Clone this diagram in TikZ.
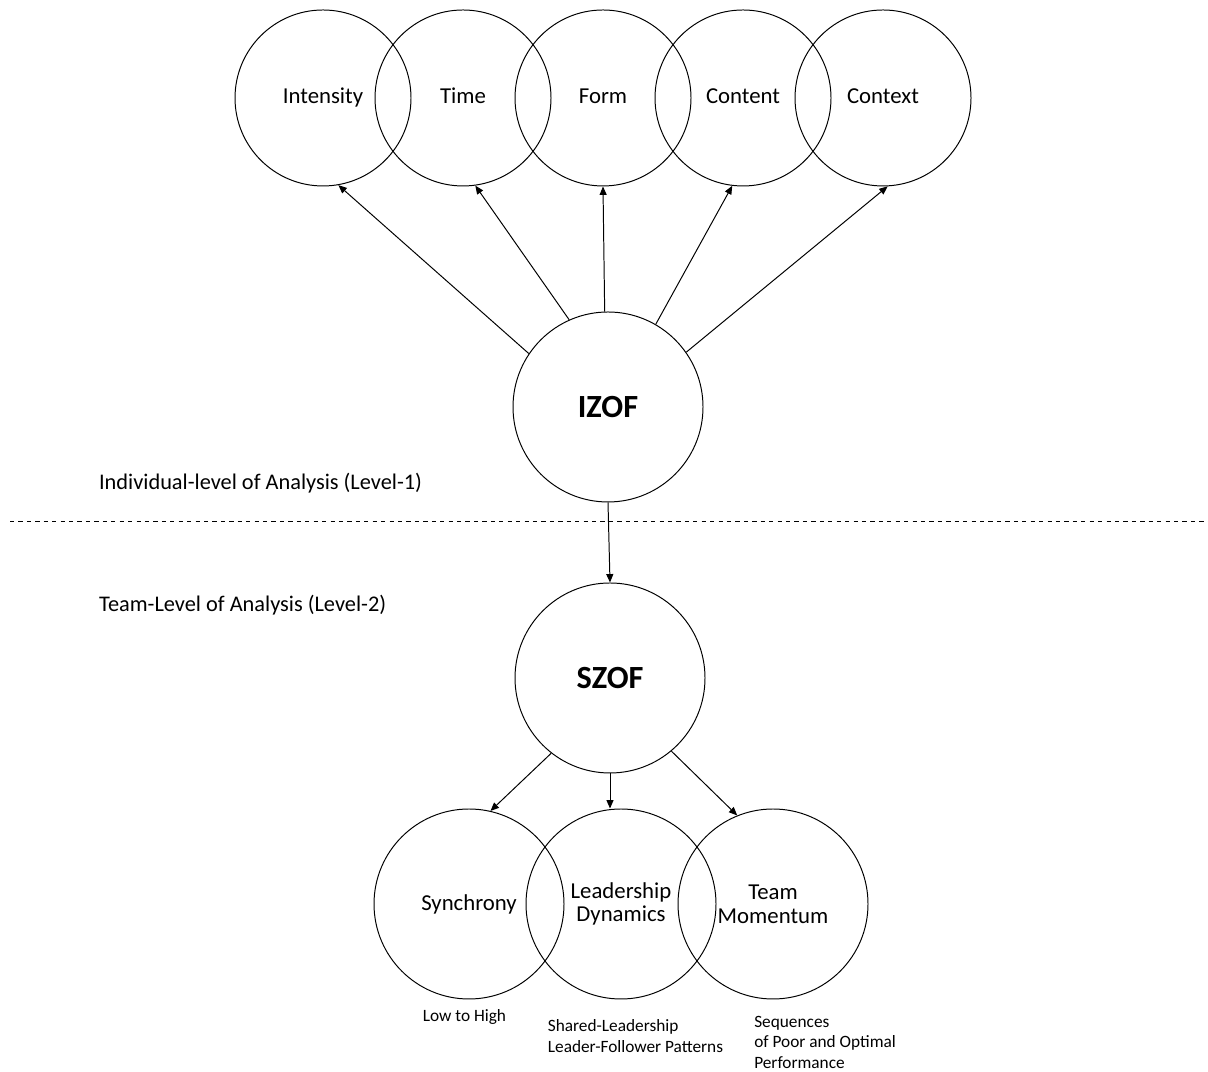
\documentclass[tikz,border=0pt]{standalone}
\usepackage{fontspec}
\setmainfont{Carlito}
\usetikzlibrary{arrows.meta}

\begin{document}
\begin{tikzpicture}[
	facet/.style={draw, circle, line width=0.7pt, minimum size=4.4cm, inner sep=0pt, text height=11.5pt, text depth=3pt, font=\fontsize{16.2}{17}\selectfont},
	zone/.style={draw, circle, line width=0.7pt, minimum size=4.75cm, inner sep=0pt, font=\fontsize{23}{25}\selectfont\bfseries},
	team/.style={draw, circle, line width=0.7pt, minimum size=4.75cm, inner sep=0pt, align=center, font=\fontsize{16.2}{16.8}\selectfont},
	note/.style={align=left, inner sep=0pt, font=\fontsize{12.3}{14.6}\selectfont},
	level/.style={anchor=west, inner sep=0pt, font=\fontsize{15.9}{17}\selectfont},
	arr/.style={-{Triangle[length=6pt,width=5pt]}, line width=0.7pt}]
			%%%%% START %%%%%
			\useasboundingbox (0, 0) rectangle (30.2, 26.8);
			
			\node[facet] (intensity) at (8.075, 24.35) {Intensity};
			\node[facet] (time) at (11.575, 24.35) {Time};
			\node[facet] (form) at (15.075, 24.35) {Form};
			\node[facet] (content) at (18.575, 24.35) {Content};
			\node[facet] (context) at (22.075, 24.35) {Context};
			
			\node[zone] (izof) at (15.2, 16.625) {IZOF};
			
			\draw[arr] (izof.146) -- (intensity.-80);
			\draw[arr] (izof.114) -- (time.-82);
			\draw[arr] (izof.92) -- (form.-90);
			\draw[arr] (izof.60) -- (content.-97);
			\draw[arr] (izof.35) -- (context.-87);
			
			\node[level] (lvlone) at (2.47, 14.725) {Individual-level of Analysis (Level-1)};
			\draw[dashed, line width=0.7pt] (0.25, 13.75) -- (30.2, 13.75);
			\node[level] (lvltwo) at (2.47, 11.675) {Team-Level of Analysis (Level-2)};
			
			\node[zone] (szof) at (15.25, 9.85) {SZOF};
			\draw[arr] (izof.south) -- (szof.north);
			
			\node[team] (sync) at (11.725, 4.2) {Synchrony};
			\node[team] (lead) at (15.525, 4.2) {Leadership\\Dynamics};
			\node[team] (mom) at (19.325, 4.2) {Team\\Momentum};
			
			\draw[arr] (szof.-128) -- (sync.77);
			\draw[arr] (szof.south) -- (szof.south |- lead.north);
			\draw[arr] (szof.-50) -- (mom.112);
			
			\node[note] (synclow) at (11.61, 1.375) {Low to High};
			\node[note, anchor=west] (leadnote) at (13.69, 0.9) {Shared-Leadership\\Leader-Follower Patterns};
			\node[note, anchor=west] (momnote) at (18.85, 0.75) {Sequences\\of Poor and Optimal\\Performance};
			%%%%% END %%%%%
\end{tikzpicture}
\end{document}
